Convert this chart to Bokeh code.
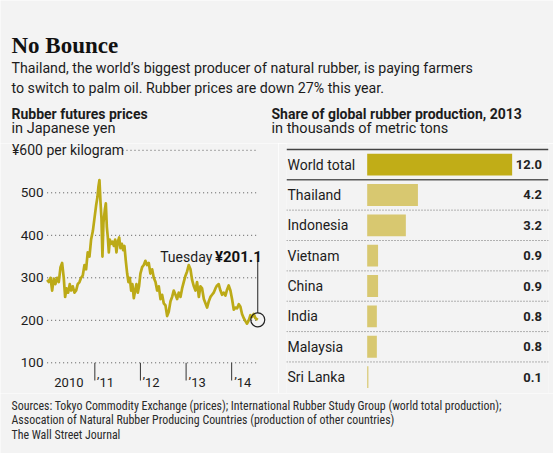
import pandas as pd
from bokeh.plotting import figure
from bokeh.layouts import column, row
from bokeh.models import Range1d, ColumnDataSource
from bokeh.core.properties import value
from bokeh.embed import file_html
from bokeh.resources import INLINE

# ---------------- data ----------------
title = "No Bounce"
subtitle = ["Thailand, the world’s biggest producer of natural rubber, is paying farmers",
            "to switch to palm oil. Rubber prices are down 27% this year."]
left_title = "Rubber futures prices"
left_sub = "in Japanese yen"
right_title = "Share of global rubber production, 2013"
right_sub = "in thousands of metric tons"
source_lines = ["Sources: Tokyo Commodity Exchange (prices); International Rubber Study Group (world total production);",
                "Assocation of Natural Rubber Producing Countries (production of other countries)",
                "The Wall Street Journal"]

price_dates = [
    "2009-12-15", "2009-12-28", "2010-01-11", "2010-01-24", "2010-02-06", "2010-02-19", "2010-03-05",
    "2010-03-18", "2010-04-01", "2010-04-14", "2010-04-27", "2010-05-08", "2010-05-19", "2010-06-01",
    "2010-06-14", "2010-06-25", "2010-07-08", "2010-07-22", "2010-08-04", "2010-08-17", "2010-08-31",
    "2010-09-13", "2010-09-26", "2010-10-10", "2010-10-23", "2010-11-05", "2010-11-19", "2010-12-02",
    "2010-12-16", "2010-12-29", "2011-01-11", "2011-01-22", "2011-01-30", "2011-02-07", "2011-02-15",
    "2011-02-23", "2011-03-03", "2011-03-11", "2011-03-22", "2011-03-30", "2011-04-07", "2011-04-15",
    "2011-04-23", "2011-05-01", "2011-05-12", "2011-05-22", "2011-06-02", "2011-06-13", "2011-06-23",
    "2011-07-04", "2011-07-15", "2011-07-25", "2011-08-05", "2011-08-16", "2011-08-26", "2011-09-06",
    "2011-09-17", "2011-09-27", "2011-10-08", "2011-10-19", "2011-10-29", "2011-11-09", "2011-11-20",
    "2011-11-30", "2011-12-11", "2011-12-21", "2012-01-01", "2012-01-15", "2012-01-28", "2012-02-10",
    "2012-02-23", "2012-03-08", "2012-03-21", "2012-04-04", "2012-04-17", "2012-05-01", "2012-05-14",
    "2012-05-27", "2012-06-10", "2012-06-23", "2012-07-06", "2012-07-20", "2012-08-02", "2012-08-15",
    "2012-08-29", "2012-09-11", "2012-09-24", "2012-10-08", "2012-10-21", "2012-11-03", "2012-11-17",
    "2012-11-30", "2012-12-13", "2012-12-27", "2013-01-09", "2013-01-22", "2013-02-05", "2013-02-18",
    "2013-03-04", "2013-03-17", "2013-03-30", "2013-04-13", "2013-04-26", "2013-05-09", "2013-05-23",
    "2013-06-05", "2013-06-18", "2013-07-02", "2013-07-15", "2013-07-28", "2013-08-10", "2013-08-24",
    "2013-09-06", "2013-09-19", "2013-10-03", "2013-10-16", "2013-10-29", "2013-11-12", "2013-11-25",
    "2013-12-08", "2013-12-22", "2014-01-04", "2014-01-18", "2014-01-31", "2014-02-13", "2014-02-27",
    "2014-03-12", "2014-03-25", "2014-04-08", "2014-04-21", "2014-05-04", "2014-05-18", "2014-05-31",
    "2014-06-13", "2014-06-27", "2014-07-10", "2014-07-29",
]
price_values = [
    295, 290, 300, 270, 298, 285, 300,
    290, 325, 335, 300, 255, 275, 265,
    285, 270, 280, 265, 270, 285, 290,
    300, 305, 330, 320, 360, 350, 390,
    410, 440, 470, 490, 515, 530, 480,
    440, 350, 430, 460, 475, 420, 395,
    360, 390, 380, 385, 375, 390, 360,
    385, 395, 370, 380, 365, 375, 340,
    310, 290, 300, 270, 285, 252, 270,
    285, 265, 280, 310, 325, 330, 340,
    330, 335, 310, 320, 300, 290, 270,
    280, 250, 260, 240, 235, 210, 220,
    245, 255, 270, 260, 250, 265, 255,
    275, 290, 305, 315, 330, 320, 295,
    280, 270, 290, 255, 280, 275, 250,
    240, 230, 245, 255, 260, 265, 275,
    282, 285, 270, 260, 265, 258, 272,
    282, 270, 250, 225, 230, 228, 238,
    232, 215, 205, 198, 192, 200, 212,
    208, 215, 205, 201.1,
]

y_ticks = [100, 200, 300, 400, 500]
y_tick_labels = ["100", "200", "300", "400", "500"]
y_top = 600
y_top_label = "¥600 per kilogram"
year_starts = ["2010-01-01", "2011-01-01", "2012-01-01", "2013-01-01", "2014-01-01"]
year_labels = ["2010", "’11", "’12", "’13", "’14"]
last_word = "Tuesday"
last_text = "¥201.1"

countries = ["World total", "Thailand", "Indonesia", "Vietnam", "China", "India", "Malaysia", "Sri Lanka"]
production = [12.0, 4.2, 3.2, 0.9, 0.9, 0.8, 0.8, 0.1]

# ---------------- style / layout ----------------
BG = "#f3f3f3"
INK = "#1c1c1c"
GOLD = "#bcaa17"
BAR_MAIN = "#c1ad17"
BAR_OTHER = "#d8c870"
RULE = "#555555"
SANS = "Roboto"
NARROW = "Roboto Condensed"
SERIF = "Liberation Serif"
W = 553
H_HEAD, H_MID, H_FOOT = 143, 250, 60
LW, RW = 278, 275


def base_fig(width, height, **kw):
    f = figure(width=width, height=height, output_backend="svg", toolbar_location=None,
               title=None, **kw)
    f.background_fill_color = BG
    f.border_fill_color = BG
    f.outline_line_color = None
    f.grid.visible = False
    return f


# ---------------- header ----------------
head = base_fig(W, H_HEAD, x_range=Range1d(0, W), y_range=Range1d(H_HEAD, 0),
                x_axis_location=None, y_axis_location=None, min_border=0)
head.text(x=[11], y=[45], text=[title], text_font=value(SERIF), text_font_style="bold",
          text_font_size="23px", text_color="#111111", text_baseline="alphabetic")
head.text(x=[11, 11], y=[67, 87.5], text=subtitle, text_font=value(SANS), text_font_size="14.2px",
          text_color=INK, text_baseline="alphabetic")
head.text(x=[11, 271], y=[113, 113], text=[left_title, right_title], text_font=value(SANS),
          text_font_style="bold", text_font_size="14px", text_color=INK, text_baseline="alphabetic")
head.text(x=[11, 271], y=[127.7, 127.7], text=[left_sub, right_sub], text_font=value(SANS),
          text_font_size="14.5px", text_color=INK, text_baseline="alphabetic")

# ---------------- line chart ----------------
dates = pd.to_datetime(price_dates)
PX_DAY = 45.6 / 365.25          # horizontal pixels per day
X_2010 = 48.77                  # pixel of 1 Jan 2010
YPX = 0.425                     # vertical pixels per yen
Y_TOP = 616.0                   # value at top edge of the middle band
ORIGIN = pd.Timestamp("2010-01-01")


def date_at(px):
    return ORIGIN + pd.Timedelta(days=(px - X_2010) / PX_DAY)


left = base_fig(LW, H_MID, x_range=Range1d(date_at(0), date_at(LW)),
                y_range=Range1d(Y_TOP - H_MID / YPX, Y_TOP),
                x_axis_location=None, y_axis_location=None, min_border=0)

# dotted rules
left.segment(x0=[dates[0]] * len(y_ticks), x1=[dates[-1]] * len(y_ticks), y0=y_ticks, y1=y_ticks,
             line_color=RULE, line_width=1, line_dash="1 3")
left.segment(x0=[date_at(122)], x1=[dates[-1]], y0=[y_top], y1=[y_top],
             line_color=RULE, line_width=1, line_dash="1 3")

# value labels on the left
left.text(x=[date_at(0)] * len(y_ticks), y=y_ticks, text=y_tick_labels, x_offset=43,
          text_align="right", text_baseline="middle", text_font=value(SANS),
          text_font_size="13.5px", text_color=INK)
left.text(x=[date_at(0)], y=[y_top], text=[y_top_label], x_offset=11.5, text_align="left",
          text_baseline="middle", text_font=value(SANS), text_font_size="14px", text_color=INK)

# year marks and labels under the chart
year_ts = pd.to_datetime(year_starts)
mark_bottom = y_ticks[0] - (380 - 362.3) / YPX
left.segment(x0=year_ts[1:], x1=year_ts[1:], y0=[y_ticks[0]] * (len(year_ts) - 1),
             y1=[mark_bottom] * (len(year_ts) - 1), line_color="#333333", line_width=1)
left.text(x=year_ts, y=[y_ticks[0] - (381.7 - 362.3) / YPX] * len(year_ts), text=year_labels,
          x_offset=[5, 2, 2, 2.5, 2.5], text_align="left", text_baseline="alphabetic",
          text_font=value(SANS), text_font_size="13px", text_color=INK)

# price line
left.line(dates, price_values, line_color=GOLD, line_width=2.7, line_join="round")

# last value marker and callout
last_d, last_v = dates[-1], price_values[-1]
left.segment(x0=[last_d], x1=[last_d], y0=[last_v + 6.8 / YPX], y1=[last_v + 59.3 / YPX],
             line_color="#222222", line_width=1)
left.scatter([last_d], [last_v], size=14, marker="circle", fill_color=None,
             line_color="#222222", line_width=1.2)
left.text(x=[last_d], y=[last_v + 62.6 / YPX], text=[last_text], x_offset=4, text_align="right",
          text_baseline="alphabetic", text_font=value(SANS), text_font_style="bold",
          text_font_size="15px", text_color="#111111")
left.text(x=[last_d], y=[last_v + 62.6 / YPX], text=[last_word], x_offset=-45.5, text_align="right",
          text_baseline="alphabetic", text_font=value(SANS), text_font_size="14px", text_color=INK)

# ---------------- bar chart ----------------
ROW0, PITCH = 164.1 - H_HEAD, 30.36   # first row centre (px from band top), row pitch (px)
BX0, BX1 = -6.68, 15.01
right = base_fig(RW, H_MID, x_range=Range1d(BX0, BX1),
                 y_range=Range1d((H_MID - ROW0) / PITCH, -ROW0 / PITCH),
                 x_axis_location=None, y_axis_location=None,
                 min_border_left=8, min_border_right=5, min_border_top=0, min_border_bottom=0)
idx = list(range(len(countries)))
src = ColumnDataSource(dict(pos=idx, country=countries, value=production,
                            label=[f"{v:.1f}" for v in production],
                            color=[BAR_MAIN] + [BAR_OTHER] * (len(countries) - 1)))
right.hbar(y="pos", left=0, right="value", height=0.72, fill_color="color",
           line_color=None, source=src)
right.text(x=BX0, y="pos", text="country", x_offset=1, text_align="left",
           text_baseline="middle", text_font=value(SANS), text_font_size="14px",
           text_color=INK, source=src)
right.text(x=BX1, y="pos", text="label", x_offset=-6.5, text_align="right",
           text_baseline="middle", text_font=value(SANS), text_font_size="13px",
           text_font_style="bold", text_color="#222222", source=src)

right.segment(x0=[BX0], x1=[BX1], y0=[idx[0] - 0.5], y1=[idx[0] - 0.5],
              line_color="#444444", line_width=1.5)
right.segment(x0=[BX0], x1=[BX1], y0=[idx[0] + 0.5], y1=[idx[0] + 0.5],
              line_color="#5a5a5a", line_width=1.4)
seps = [i + 0.5 for i in idx[1:-1]]
right.segment(x0=[BX0] * len(seps), x1=[BX1] * len(seps), y0=seps, y1=seps,
              line_color="#6e6e6e", line_width=1, line_dash="1 2")

# ---------------- footer ----------------
foot = base_fig(W, H_FOOT, x_range=Range1d(0, W), y_range=Range1d(H_FOOT, 0),
                x_axis_location=None, y_axis_location=None, min_border=0)
foot.text(x=[11, 11, 11], y=[12.3, 26.3, 41], text=source_lines, text_font=value(NARROW),
          text_font_size="11.9px", text_color="#2a2a2a", text_baseline="alphabetic")

p = column(head, row(left, right), foot)
open("out.html", "w").write(file_html(p, INLINE))
